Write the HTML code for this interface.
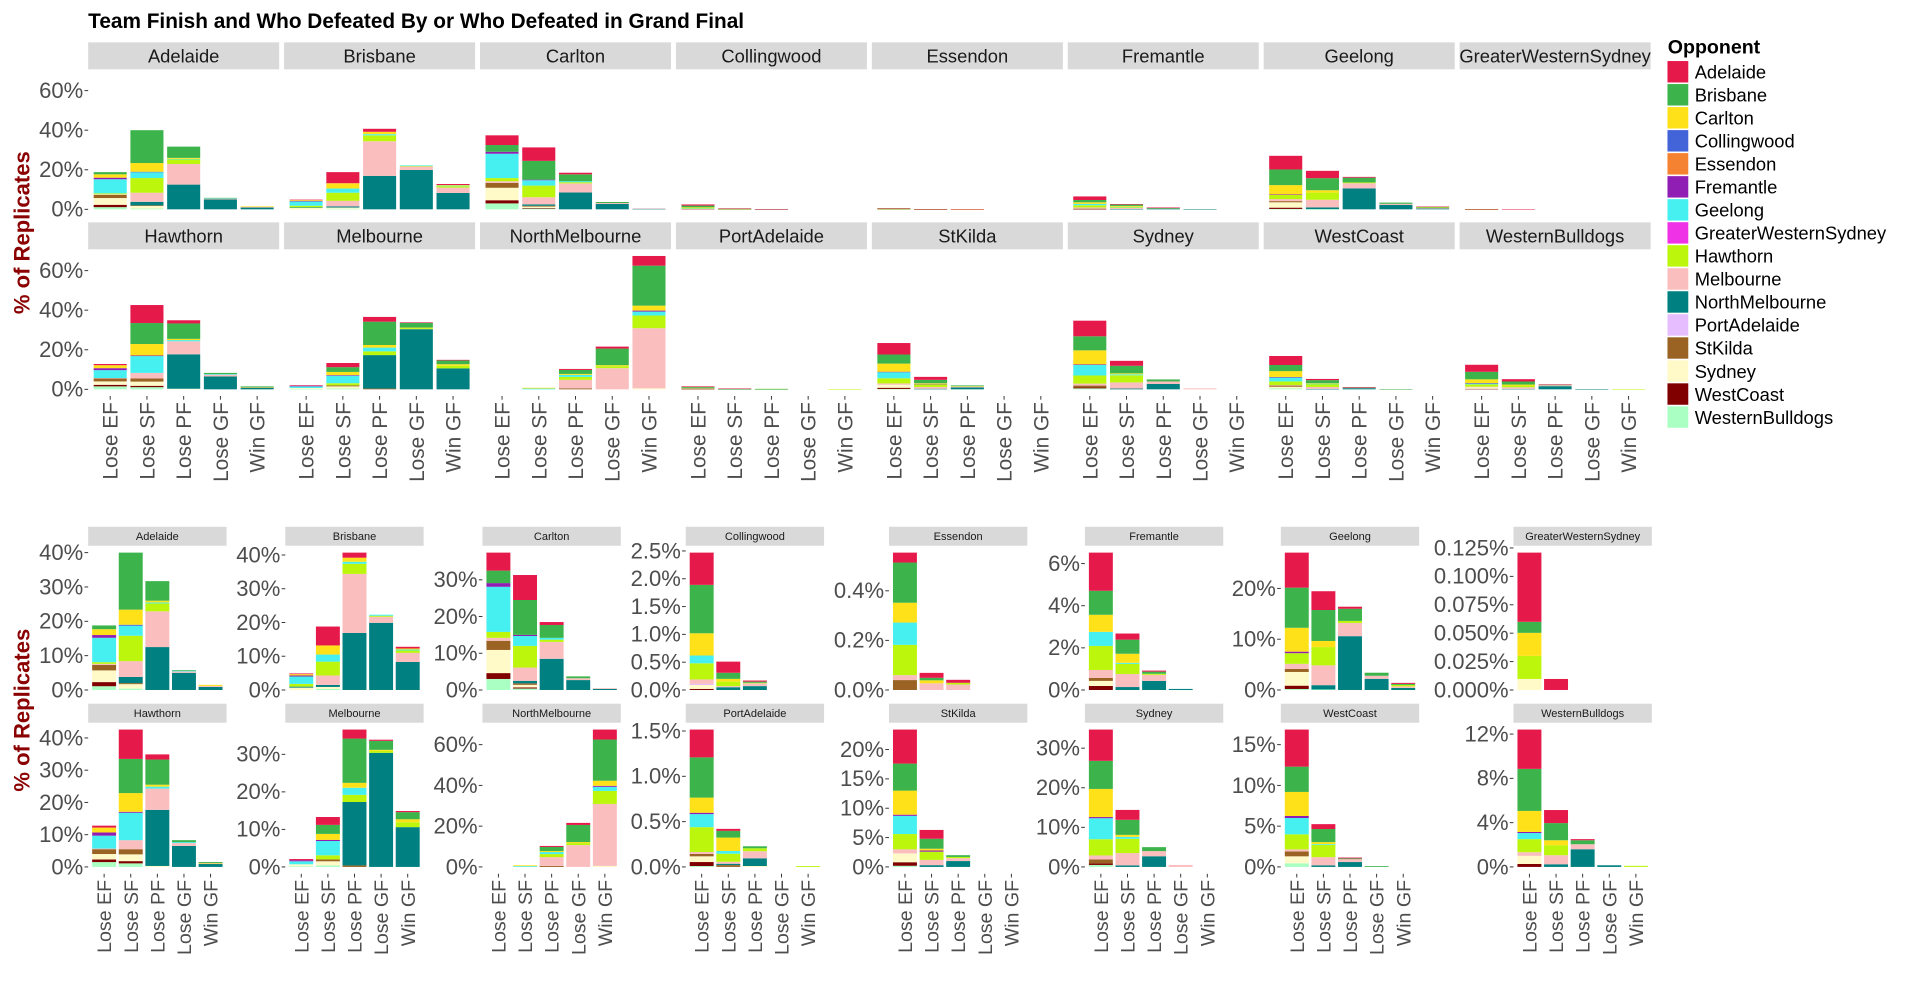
<!DOCTYPE html>
<html><head><meta charset="utf-8">
<style>
html,body{margin:0;padding:0;background:#fff;}
svg{display:block;font-family:"Liberation Sans",Arial,sans-serif;}
</style></head>
<body>
<svg id="chart" xmlns="http://www.w3.org/2000/svg" width="1920" height="1005" viewBox="0 0 1568 820.75" preserveAspectRatio="none">
<text x="72" y="23" font-size="17" font-weight="bold" fill="#000">Team Finish and Who Defeated By or Who Defeated in Grand Final</text>
<text transform="translate(24,190) rotate(-90)" text-anchor="middle" font-size="18" font-weight="bold" fill="#8B0000">% of Replicates</text>
<text transform="translate(24,580) rotate(-90)" text-anchor="middle" font-size="18" font-weight="bold" fill="#8B0000">% of Replicates</text>
<g id="legend"></g>
<g id="top"></g>
<g id="bottom"></g>
</svg>
<script>
const finishes = ["Lose EF","Lose SF","Lose PF","Lose GF","Win GF"];
const teams = ["Adelaide","Brisbane","Carlton","Collingwood","Essendon","Fremantle","Geelong","GreaterWesternSydney","Hawthorn","Melbourne","NorthMelbourne","PortAdelaide","StKilda","Sydney","WestCoast","WesternBulldogs"];
const opponents = ["Adelaide","Brisbane","Carlton","Collingwood","Essendon","Fremantle","Geelong","GreaterWesternSydney","Hawthorn","Melbourne","NorthMelbourne","PortAdelaide","StKilda","Sydney","WestCoast","WesternBulldogs"];
const opponentCodes = ["A","B","C","Co","E","F","G","GW","H","M","N","P","S","Sy","W","WB"];
const opponentColors = ["#E6194B","#3CB44B","#FFE119","#4363D8","#F58231","#911EB4","#46F0F0","#F032E6","#BCF60C","#FABEBE","#008080","#E6BEFF","#9A6324","#FFFAC8","#800000","#AAFFC3"];

// values (% of replicates) per team, per finish: "opponentCode:value"
const adelaideVals = ["WB:1.1,W:1.2,Sy:3.4,S:1.6,M:0.3,H:0.5,G:7.1,F:0.8,C:1.7,B:1.1","WB:0.4,Sy:1.3,S:0.3,N:1.8,M:4.6,H:7.4,G:2.9,Co:0.3,C:4.4,B:16.6","N:12.5,M:10.4,H:2.3,G:0.3,C:0.5,B:5.7","N:5.0,M:0.4,G:0.2,B:0.2","N:0.9,M:0.3,C:0.3"];
const brisbaneVals = ["Sy:0.7,H:0.8,N:0.3,G:2.2,F:0.3,C:0.4,A:0.2","WB:0.3,Sy:0.6,N:0.6,M:2.8,H:4.1,G:2.1,C:2.7,A:5.6","N:16.9,M:17.5,H:3.0,G:0.6,C:1.2,A:1.5","N:19.9,M:1.8,H:0.3,G:0.3","N:8.3,M:2.7,H:0.7,G:0.3,C:0.3,A:0.5"];
const carltonVals = ["WB:3.0,W:1.6,Sy:6.3,S:2.5,M:0.8,H:1.6,G:12.3,F:1.0,B:3.4,A:4.9","WB:0.4,W:0.3,Sy:0.7,S:0.4,N:0.7,M:3.6,H:5.9,G:2.7,F:0.3,B:9.5,A:6.8","N:8.5,M:4.6,H:0.6,G:0.5,B:3.5,A:0.8","N:2.7,M:0.5,B:0.5","N:0.3,M:0.2"];
const collingwoodVals = ["W:0.02,Sy:0.07,P:0.02,M:0.08,H:0.29,G:0.14,C:0.4,B:0.87,A:0.58","N:0.05,M:0.02,H:0.08,C:0.05,B:0.11,A:0.2","N:0.07,M:0.05,H:0.01,B:0.02,A:0.02","",""];
const essendonVals = ["S:0.04,M:0.02,H:0.122,G:0.09,C:0.08,B:0.162,A:0.04","M:0.027,C:0.012,B:0.01,A:0.02","M:0.022,H:0.007,A:0.012","",""];
const fremantleVals = ["W:0.19,Sy:0.24,S:0.14,M:0.38,H:1.14,G:0.67,C:0.81,B:1.14,A:1.81","N:0.14,M:0.62,H:0.48,G:0.05,C:0.43,B:0.67,A:0.29","N:0.43,M:0.29,H:0.05,B:0.1,A:0.05","N:0.05",""];
const geelongVals = ["WB:0.2,W:0.65,Sy:2.7,S:0.6,M:1.0,H:2.1,F:0.3,C:4.7,B:7.9,A:6.9","WB:0.1,N:0.85,M:3.9,H:3.6,C:1.2,B:6.1,A:3.7","N:10.6,M:2.6,H:0.4,B:2.4,A:0.4","N:2.2,M:0.6,B:0.6","N:0.4,M:0.3,H:0.3,B:0.2,A:0.2"];
const gwsVals = ["Sy:0.0097,H:0.0203,C:0.0203,B:0.0097,A:0.0609","A:0.0097","","",""];
const hawthornVals = ["WB:1.5,W:0.8,Sy:1.7,S:1.5,M:0.2,G:4.0,F:1.0,C:1.5,A:0.6","WB:1.1,W:0.7,Sy:2.1,S:1.6,M:2.8,G:8.5,F:0.3,C:5.8,B:10.6,A:9.1","Sy:0.3,N:17.4,M:6.6,G:0.6,C:0.6,B:7.8,A:1.6","N:6.5,M:0.9,G:0.3,B:0.6","N:0.9,M:0.2,C:0.1,B:0.3"];
const melbourneVals = ["WB:0.2,Sy:0.5,G:0.8,F:0.3,A:0.3","WB:0.4,Sy:1.1,S:0.5,H:1.1,G:3.8,F:0.3,C:1.6,B:2.4,A:2.1","S:0.4,N:16.9,H:1.9,G:1.9,C:1.3,B:11.8,A:2.4","N:30.4,H:0.5,C:0.3,B:2.4,A:0.3","N:10.6,H:1.3,C:0.8,B:1.9,A:0.3"];
const northMelbourneVals = ["","G:0.4,C:0.4","S:0.5,M:4.3,H:1.5,G:1.0,C:0.5,B:2.0,A:0.5","M:10.7,H:1.0,C:0.5,B:8.4,A:1.0","Sy:0.5,M:30.4,H:6.4,G:2.0,F:0.5,C:2.5,B:20.2,A:4.9"];
const portAdelaideVals = ["WB:0.01,W:0.044,Sy:0.063,S:0.026,M:0.022,H:0.274,G:0.144,F:0.015,C:0.167,B:0.444,A:0.307","S:0.02,N:0.015,M:0.022,H:0.089,G:0.03,C:0.148,B:0.074,A:0.022","Sy:0.01,N:0.085,M:0.078,H:0.033,B:0.022","","H:0.01"];
const stKildaVals = ["WB:0.2,W:0.6,Sy:1.5,M:0.7,H:2.6,G:3.1,F:0.2,C:4.1,B:4.6,A:5.8","N:0.3,M:0.9,H:1.4,F:0.2,C:0.3,B:1.7,A:1.5","N:1.0,M:0.5,H:0.2,B:0.3","",""];
const sydneyVals = ["WB:0.5,W:0.4,S:1.0,M:1.0,H:4.1,G:5.3,F:0.3,C:7.1,B:7.1,A:7.9","N:0.4,M:3.1,H:3.6,G:0.5,C:0.5,B:3.8,A:2.5","N:2.7,M:1.3,B:1.0","M:0.5",""];
const westCoastVals = ["WB:0.45,Sy:0.85,S:0.6,M:0.25,H:1.85,G:2.0,F:0.25,C:2.95,B:3.1,A:4.55","N:0.2,M:1.0,H:1.5,G:0.1,C:0.25,B:1.6,A:0.6","N:0.6,M:0.35,B:0.1,A:0.1","B:0.1",""];
const bulldogsVals = ["W:0.27,Sy:0.73,M:0.33,H:1.18,G:0.55,F:0.1,C:1.9,B:3.8,A:3.55","N:0.24,M:0.82,H:0.9,C:0.45,B:1.55,A:1.18","N:1.6,M:0.45,B:0.36,A:0.1","N:0.15","H:0.1"];
const teamVals = [adelaideVals,brisbaneVals,carltonVals,collingwoodVals,essendonVals,fremantleVals,geelongVals,gwsVals,hawthornVals,melbourneVals,northMelbourneVals,portAdelaideVals,stKildaVals,sydneyVals,westCoastVals,bulldogsVals];

// tick labels
const topTicks = [0,20,40,60];
const freeTicks = [[0,10,20,30,40],[0,10,20,30,40],[0,10,20,30],[0,0.5,1,1.5,2,2.5],[0,0.2,0.4],[0,2,4,6],[0,10,20],[0,0.025,0.05,0.075,0.1,0.125],
  [0,10,20,30,40],[0,10,20,30],[0,20,40,60],[0,0.5,1,1.5],[0,5,10,15,20],[0,10,20,30],[0,5,10,15],[0,4,8,12]];
const freeTickDigits = [0,0,0,1,1,0,0,3,0,0,0,1,0,0,0,0];

const NS="http://www.w3.org/2000/svg";
function mk(tag,attrs,parent){const e=document.createElementNS(NS,tag);for(const k in attrs)e.setAttribute(k,attrs[k]);parent.appendChild(e);return e;}
function parse(s){const v=new Array(16).fill(0);if(!s)return v;s.split(",").forEach(p=>{const [c,x]=p.split(":");v[opponentCodes.indexOf(c)]=parseFloat(x);});return v;}
const parsed = teamVals.map(t=>t.map(parse));
const totals = parsed.map(t=>t.map(b=>b.reduce((a,c)=>a+c,0)));
const globalMax = Math.max(...totals.map(t=>Math.max(...t)));

function drawPanel(g, ti, left, width, top, height, maxV, stripH, stripFont, showX, xFont, ticks, tickDigits, showY){
  const team=teams[ti];
  const slug=team.toLowerCase();
  const strip=mk("rect",{x:left,y:top-stripH,width:width,height:stripH,fill:"#D9D9D9"},g);
  
  
  const st=mk("text",{x:left+width/2,y:top-stripH/2+stripFont*0.36,"text-anchor":"middle","font-size":stripFont,fill:"#1A1A1A"},g);
  st.textContent=team;
  
  
  const bottom=top+height;
  const y=v=>bottom-(v+0.05*maxV)/(1.1*maxV)*height;
  const unit=width/5.2;
  const xc=i=>left+(i+0.6)*unit;
  const bw=unit*0.9;
  parsed[ti].forEach((vals,bi)=>{
    let cum=0;
    for(let oi=15;oi>=0;oi--){
      const v=vals[oi]; if(v<=0) continue;
      const r=mk("rect",{x:xc(bi)-bw/2,y:y(cum+v),width:bw,height:Math.max(0.4,y(cum)-y(cum+v)),fill:opponentColors[oi]},g);
      
      
      cum+=v;
    }
  });
  if(showY){
    ticks.forEach(t=>{
      const yy=y(t);
      const tk=mk("line",{x1:left-3,x2:left,y1:yy,y2:yy,stroke:"#333",["stroke-width"]:0.8},g);
      
      
      const lb=mk("text",{x:left-4,y:yy+6,"text-anchor":"end","font-size":18,fill:"#4D4D4D"},g);
      lb.textContent=t.toFixed(tickDigits)+"%";
      
      
    });
  }
  if(showX){
    finishes.forEach((f,i)=>{
      const tk=mk("line",{x1:xc(i),x2:xc(i),y1:bottom,y2:bottom+3,stroke:"#333",["stroke-width"]:0.8},g);
      
      
      const lb=mk("text",{transform:`translate(${xc(i)+xFont*0.36},${bottom+5}) rotate(-90)`,"text-anchor":"end","font-size":xFont,fill:"#4D4D4D"},g);
      lb.textContent=f;
      
      
    });
  }
}

// top section: fixed scale
const topG=document.getElementById("top");
for(let ti=0;ti<16;ti++){
  const col=ti%8,row=Math.floor(ti/8);
  const left=72+col*160;
  const top=row===0?56.6:203.6;
  drawPanel(topG,ti,left,156,top,119.8,globalMax,22,15,row===1,17,topTicks,0,col===0);
}
// bottom section: free scales
const botLefts=[72,233,394,560,726,886,1046,1236];
const botG=document.getElementById("bottom");
for(let ti=0;ti<16;ti++){
  const col=ti%8,row=Math.floor(ti/8);
  const top=row===0?445.7:590.2;
  const maxV=Math.max(...totals[ti]);
  drawPanel(botG,ti,botLefts[col],113,top,123.4,maxV,15.5,9,row===1,16,freeTicks[ti],freeTickDigits[ti],true);
}
// legend
const lg=document.getElementById("legend");
const lt=mk("text",{x:1362,y:43.5,"font-size":16,"font-weight":"bold",fill:"#000"},lg);
lt.textContent="Opponent";


opponents.forEach((o,i)=>{
  const yy=49.6+i*18.8;
  const k=mk("rect",{x:1361.5,y:yy,width:17.5,height:18,fill:opponentColors[i],stroke:"#fff","stroke-width":0.5},lg);
  
  
  const t=mk("text",{x:1384,y:yy+14.5,"font-size":15,fill:"#000"},lg);
  t.textContent=o;
  
  
});
</script>
</body></html>
